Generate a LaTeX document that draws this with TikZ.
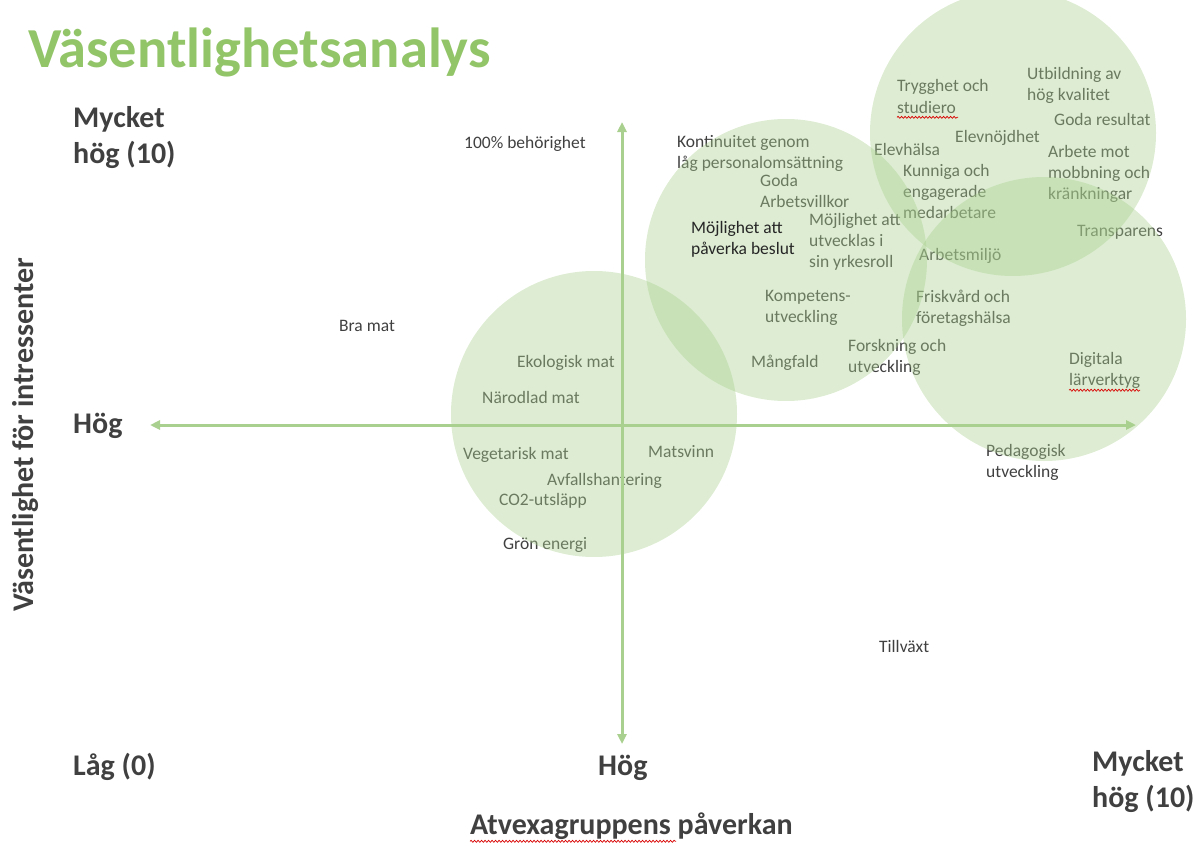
\documentclass[tikz,border=0pt]{standalone}
\usepackage{fontspec}
\setmainfont{Carlito}
\usepackage{tikz}
\usetikzlibrary{arrows.meta}
\usetikzlibrary{decorations.pathmorphing}
\definecolor{titlegreen}{RGB}{146,196,104}
\definecolor{axisgreen}{RGB}{169,208,142}
\definecolor{circlegreen}{RGB}{169,208,142}
\definecolor{textgray}{RGB}{64,64,64}
\tikzset{
    lbl/.style={
        anchor=base west,
        inner sep=0pt,
        align=left,
        text=textgray,
        font=\fontsize{17.5}{21}\selectfont
    },
    axlbl/.style={
        anchor=base west,
        inner sep=0pt,
        align=left,
        text=textgray,
        font=\fontsize{30}{36}\selectfont\bfseries
    },
    bubble/.style={
        fill=circlegreen,
        fill opacity=0.4
    },
    axis/.style={
        draw=axisgreen,
        line width=3pt,
        {Triangle[length=10pt, width=9pt]}-{Triangle[length=10pt, width=9pt]}
    },
    squiggle/.style={
        draw=red!85!black,
        line width=0.7pt,
        decorate,
        decoration={snake, amplitude=1pt, segment length=3.5pt}
    }
}

\begin{document}
\begin{tikzpicture}[x=1pt, y=-1pt]
  \useasboundingbox (0,0) rectangle (1202,843);
  \clip (0,0) rectangle (1202,843);

  % Title
  \node[anchor=base west, inner sep=0pt, text=titlegreen,
        font=\fontsize{56.5}{60}\selectfont\bfseries] (title) at (28,67) {Väsentlighetsanalys};

  % Scale labels (base = last line)
  \node[axlbl] (ytop) at (73,163) {Mycket\\hög (10)};
  \node[axlbl] (ymid) at (73,433) {Hög};
  \node[axlbl] (ylow) at (73,775) {Låg (0)};
  \node[axlbl] (xmid) at (598,775) {Hög};
  \node[axlbl] (xtop) at (1092,807) {Mycket\\hög (10)};
  \node[axlbl] (xlabel) at (470,834) {Atvexagruppens påverkan};
  \node[axlbl, anchor=base, rotate=90] (ylabel) at (33,435) {Väsentlighet för intressenter};

  % Topics - food and environment
  \node[lbl] (bramat) at (339,331) {Bra mat};
  \node[lbl] (ekologisk) at (517,367) {Ekologisk mat};
  \node[lbl] (narodlad) at (482,403) {Närodlad mat};
  \node[lbl] (vegetarisk) at (463,459) {Vegetarisk mat};
  \node[lbl] (matsvinn) at (648,457) {Matsvinn};
  \node[lbl] (avfall) at (547,485) {Avfallshantering};
  \node[lbl] (co2) at (499,505) {CO2-utsläpp};
  \node[lbl] (gron) at (503,549) {Grön energi};

  % Topics - staff
  \node[lbl] (behorighet) at (464,148) {100\% behörighet};
  \node[lbl] (kontinuitet) at (677,168) {Kontinuitet genom\\låg personalomsättning};
  \node[lbl] (goda) at (760,207) {Goda\\Arbetsvillkor};
  \node[lbl] (utvecklas) at (809,267) {Möjlighet att\\utvecklas i\\sin yrkesroll};
  \node[lbl] (kompetens) at (765,322) {Kompetens-\\utveckling};
  \node[lbl] (mangfald) at (751,367) {Mångfald};
  \node[lbl] (forskning) at (848,372) {Forskning och\\utveckling};

  % Topics - students
  \node[lbl] (trygghet) at (897,113) {Trygghet och\\studiero};
  \node[lbl] (utbildning) at (1027,100) {Utbildning av\\hög kvalitet};
  \node[lbl] (resultat) at (1054,125) {Goda resultat};
  \node[lbl] (elevnojdhet) at (955,142) {Elevnöjdhet};
  \node[lbl] (elevhalsa) at (874,155) {Elevhälsa};
  \node[lbl] (mobbning) at (1048,199) {Arbete mot\\mobbning och\\kränkningar};
  \node[lbl] (kunniga) at (903,218) {Kunniga och\\engagerade\\medarbetare};
  \node[lbl] (transparens) at (1077,236) {Transparens};
  \node[lbl] (arbetsmiljo) at (919,260) {Arbetsmiljö};
  \node[lbl] (friskvard) at (916,323) {Friskvård och\\företagshälsa};
  \node[lbl] (digitala) at (1069,385) {Digitala\\lärverktyg};
  \node[lbl] (pedagogisk) at (986,477) {Pedagogisk\\utveckling};
  \node[lbl] (tillvaxt) at (879,652) {Tillväxt};

  % Groups
  \fill[bubble] (594,414) circle[radius=143pt];
  \fill[bubble] (786,260) circle[radius=141pt];
  \fill[bubble] (1013,133) circle[radius=143pt];
  \fill[bubble] (1044,319) circle[radius=142pt];

  \node[lbl, text=black!85] (paverka) at (691,254) {Möjlighet att\\påverka beslut};

  % Axes
  \coordinate (hleft) at (150,425);
  \coordinate (hright) at (1136,425);
  \coordinate (vtop) at (622,122);
  \coordinate (vbottom) at (622,744);
  \draw[axis] (hleft) -- (hright);
  \draw[axis] (vtop) -- (vbottom);

  % Spelling marks
  \draw[squiggle] ([yshift=-4pt]trygghet.south west) -- ++(61,0);
  \draw[squiggle] ([yshift=-2pt]digitala.south west) -- ++(71,0);
  \draw[squiggle] ([yshift=-2pt]xlabel.south west) -- ++(206,0);
\end{tikzpicture}
\end{document}
